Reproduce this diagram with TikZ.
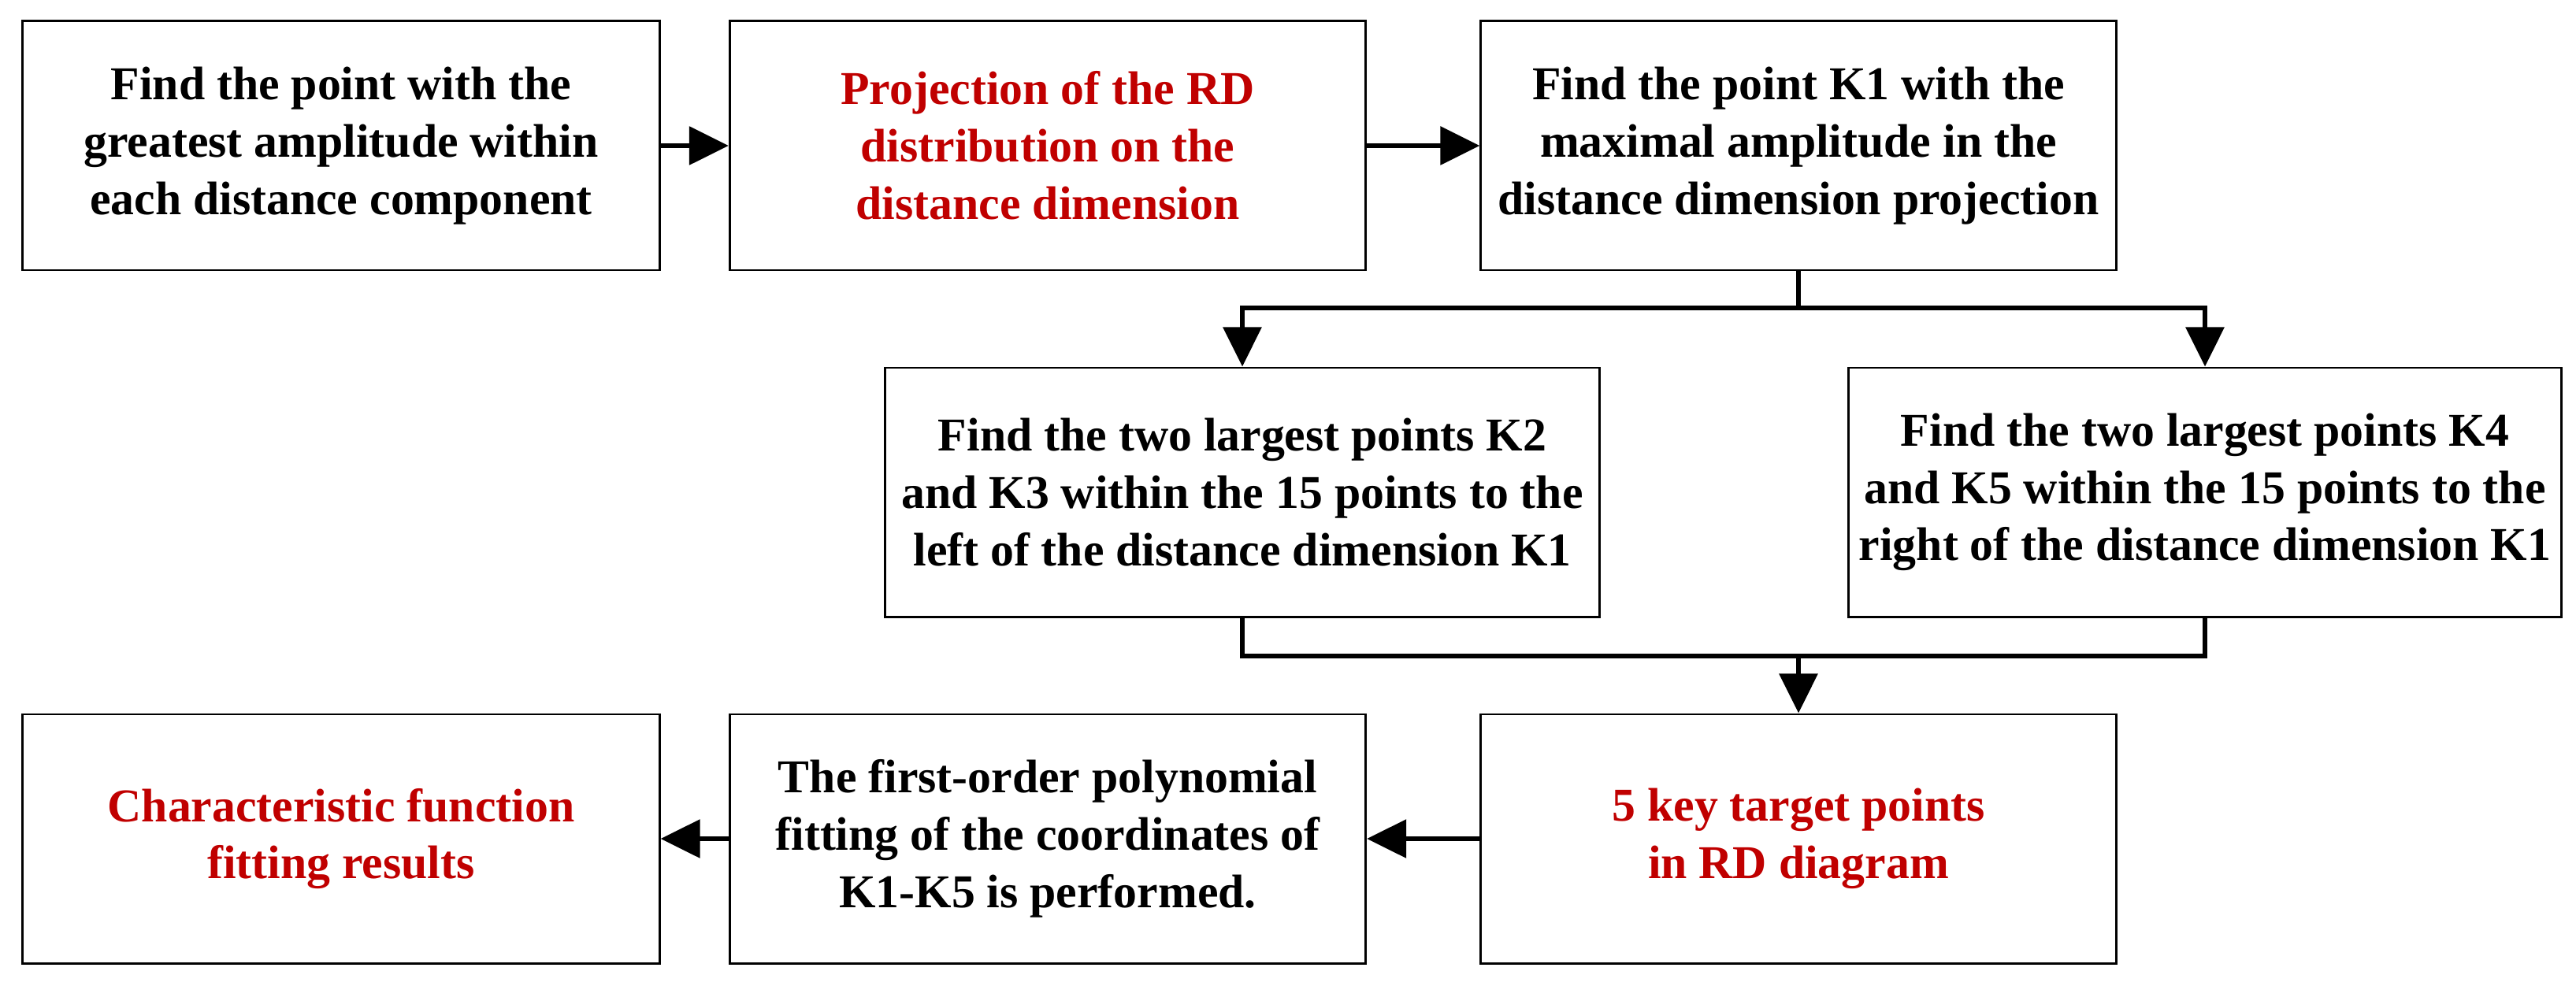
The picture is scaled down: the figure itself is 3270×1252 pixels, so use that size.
\documentclass[tikz,border=0pt]{standalone}
\usepackage{fontspec}
\setmainfont{Liberation Serif}
\usetikzlibrary{positioning,arrows.meta}
\definecolor{hred}{RGB}{192,0,0}
\begin{document}
\begin{tikzpicture}[x=0.01cm,y=-0.01cm,
    box/.style={draw,line width=0.8pt,align=center,font=\bfseries\fontsize{17}{20.7}\selectfont,inner sep=0pt,
      minimum width=#1,minimum height=3.16cm},
    hl/.style={text=hred},
    arr/.style={-{Triangle[length=5mm,width=4.8mm]},line width=1.7pt},
    ln/.style={line width=1.7pt}
  ]
  \useasboundingbox (0,0) rectangle (3270,1252);
  % top row
  \node[box=8.08cm] (pk) at (433,185)
    {Find the point with the\\greatest amplitude within\\each distance component};
  \node[box=8.07cm,hl] (proj) at (1330,185)
    {Projection of the RD\\distribution on the\\distance dimension};
  \node[box=8.06cm] (kone) at (2283,185)
    {Find the point K1 with the\\maximal amplitude in the\\distance dimension projection};
  % middle row
  \node[box=9.06cm] (left) at (1577,625)
    {Find the two largest points K2\\and K3 within the 15 points to the\\left of the distance dimension K1};
  \node[box=9.05cm] (right) at (2799,625)
    {Find the two largest points K4\\and K5 within the 15 points to the\\right of the distance dimension K1};
  % bottom row
  \node[box=8.08cm,hl] (res) at (433,1065)
    {Characteristic function\\fitting results};
  \node[box=8.07cm] (fit) at (1330,1065)
    {The first-order polynomial\\fitting of the coordinates of\\K1-K5 is performed.};
  \node[box=8.06cm,hl] (five) at (2283,1065)
    {5 key target points\\in RD diagram};
  % connectors
  \coordinate (split) at (2283,391);
  \coordinate (join) at (2283,833);
  \draw[arr] (pk) -- (proj);
  \draw[arr] (proj) -- (kone);
  \draw[ln] (kone) -- (split);
  \draw[arr] (split) -| (left);
  \draw[arr] (split) -| (right);
  \draw[ln] (left.south) |- (join) -| (right.south);
  \draw[arr] (join) -- (five);
  \draw[arr] (five) -- (fit);
  \draw[arr] (fit) -- (res);
\end{tikzpicture}
\end{document}
